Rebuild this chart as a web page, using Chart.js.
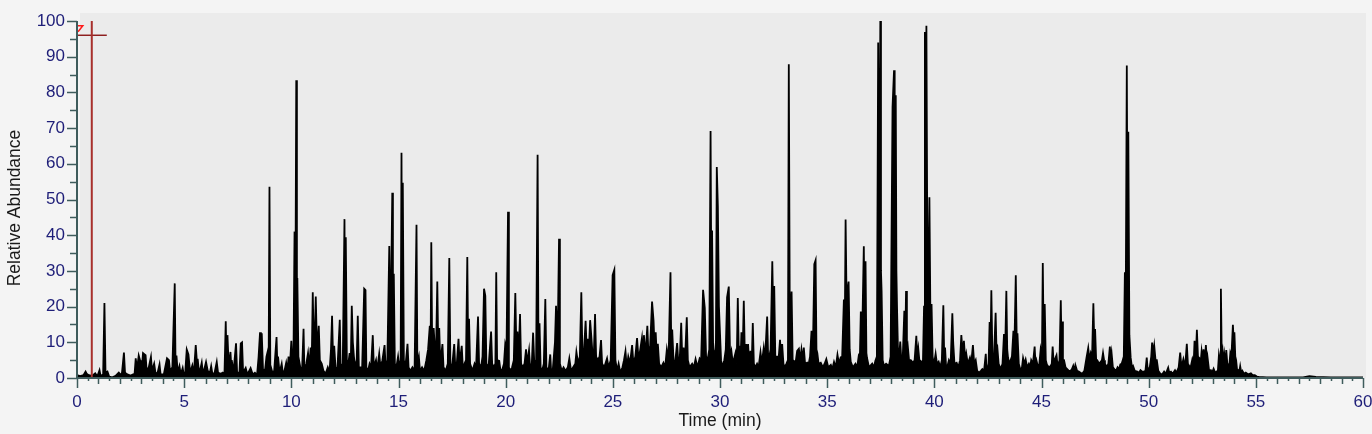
<!DOCTYPE html>
<html>
<head>
<meta charset="utf-8">
<script src="https://cdn.jsdelivr.net/npm/chart.js@4.4.1/dist/chart.umd.min.js"></script>
<style>
  html, body { margin: 0; padding: 0; background: #f4f4f4; }
  canvas { display: block; }
</style>
</head>
<body>
<canvas id="chrom" width="1372" height="434"></canvas>
<script>
// retention time (min), relative abundance (%), in pairs
var seg0to5 = [[0,0.8],[0.15,0.5],[0.3,0.8],[0.4,1.8],[0.45,1.2],[0.55,0.8],[0.7,0.6],[0.85,1.3],[0.95,0.5],[1.05,2.2],[1.1,0.6],[1.22,1],[1.28,21],[1.33,1.5],[1.42,1.8],[1.5,0.4],[1.65,0.2],[1.8,0.6],[1.95,1.5],[2.05,0.8],[2.1,1.5],[2.19,7.1],[2.24,1.5],[2.35,1],[2.5,0.7],[2.62,1],[2.68,0.6],[2.74,5.5],[2.8,2.5],[2.88,6.3],[2.94,5],[2.98,2],[3.04,4],[3.08,7],[3.14,6.7],[3.2,6.4],[3.25,2],[3.35,3],[3.45,5.9],[3.5,2],[3.6,4],[3.66,1.5],[3.75,1.2],[3.85,3.8],[3.9,1],[4.05,1],[4.2,5.5],[4.29,5],[4.34,2],[4.45,3],[4.56,26.5],[4.6,2],[4.64,6.3],[4.7,1.5],[4.78,3.3],[4.84,1],[4.93,2.8],[4.98,1]];
var seg5to10 = [[5.05,1.5],[5.12,8],[5.2,6.6],[5.28,1.5],[5.38,3.5],[5.45,1],[5.54,9.2],[5.6,4],[5.63,5.4],[5.7,1],[5.82,4.3],[5.88,1],[6.02,4.5],[6.1,2],[6.2,1.5],[6.26,3.3],[6.32,1],[6.42,1.5],[6.52,4.5],[6.58,1.5],[6.7,1.2],[6.8,1.5],[6.88,1],[6.94,15.9],[6.98,3],[7.02,12],[7.08,3],[7.16,7.3],[7.2,3],[7.22,5],[7.3,1.5],[7.42,9.7],[7.47,1.5],[7.58,1.5],[7.64,9.7],[7.7,10],[7.75,1.5],[7.87,2.8],[7.95,1],[8.1,2.8],[8.2,1],[8.3,1.5],[8.4,0.8],[8.47,5.7],[8.54,12.8],[8.58,3],[8.62,12.5],[8.68,2],[8.78,2.5],[8.84,6],[8.9,7.5],[8.94,2],[8.98,53.6],[9.02,2],[9.05,3],[9.12,1.5],[9.2,2],[9.31,11.5],[9.35,3],[9.38,6],[9.45,1.5],[9.55,4],[9.6,1.5],[9.68,2],[9.76,4.3],[9.82,2],[9.87,6],[9.93,3],[10.0,10.4],[10.05,4]];
var seg10to15 = [[10.1,6],[10.15,41],[10.18,6],[10.23,83.4],[10.26,12],[10.28,28],[10.33,6],[10.42,3],[10.5,2],[10.57,13.8],[10.61,2],[10.7,4],[10.78,7],[10.84,3],[10.9,8.5],[10.95,4],[11.0,24],[11.06,4],[11.14,22.8],[11.2,7],[11.28,14.6],[11.33,5],[11.42,4],[11.5,2],[11.6,1.2],[11.7,3],[11.78,1.5],[11.85,8],[11.9,17.4],[11.95,5],[12.0,9],[12.06,3],[12.15,2.5],[12.26,16.3],[12.3,3],[12.4,4],[12.48,44.5],[12.51,5],[12.54,39.4],[12.59,5],[12.66,4],[12.72,7],[12.77,3],[12.82,20.2],[12.87,10],[12.92,6],[12.98,3],[13.05,5],[13.1,17.4],[13.15,3],[13.25,3],[13.3,2],[13.4,25],[13.46,24.6],[13.5,3],[13.58,2],[13.65,4],[13.72,3],[13.8,12],[13.85,3],[13.95,5],[14.0,2],[14.1,6.8],[14.16,3],[14.25,5],[14.35,9.2],[14.4,3],[14.48,5],[14.57,37],[14.62,8],[14.71,51.9],[14.74,8],[14.78,29.2],[14.83,4],[14.9,3],[14.98,6],[15.04,3]];
var seg15to20 = [[15.1,5],[15.14,63.1],[15.17,8],[15.2,54.7],[15.25,5],[15.32,3],[15.42,9.6],[15.47,3],[15.55,2],[15.65,3],[15.75,2],[15.84,42.9],[15.88,4],[15.95,6],[16.0,2],[16.1,3],[16.2,2],[16.3,5],[16.38,8],[16.46,14.6],[16.5,10],[16.53,38],[16.57,10],[16.64,14],[16.7,8],[16.76,10],[16.81,27],[16.86,6],[16.9,14],[16.95,4],[17.05,9.5],[17.1,3],[17.2,2],[17.3,4],[17.37,33.6],[17.42,4],[17.5,3],[17.6,9.5],[17.65,3],[17.72,4],[17.8,11],[17.85,4],[17.95,9],[18.0,3],[18.08,4],[18.15,5],[18.21,33.9],[18.25,8],[18.29,16.6],[18.34,4],[18.45,2],[18.55,4],[18.62,3],[18.71,17.2],[18.76,4],[18.85,3],[18.92,6],[18.99,25],[19.05,23],[19.1,4],[19.2,3],[19.32,13],[19.37,4],[19.45,3],[19.52,4],[19.56,29.6],[19.6,5],[19.7,4.8],[19.76,2],[19.85,2.5],[19.92,4],[19.98,9.5]];
var seg20to25 = [[20.04,8],[20.11,46.6],[20.15,3],[20.22,2],[20.3,3],[20.38,5],[20.45,23.8],[20.5,8],[20.55,13],[20.6,5],[20.67,17.9],[20.72,4],[20.8,3],[20.88,4],[20.95,8],[21.0,4],[21.09,7.8],[21.14,3],[21.22,4],[21.28,12.7],[21.33,5],[21.42,4],[21.49,62.5],[21.53,8],[21.58,15.3],[21.63,3],[21.7,2],[21.78,4],[21.85,22.1],[21.9,3],[22.0,2],[22.08,6.6],[22.12,2],[22.2,2.5],[22.3,10],[22.35,20.2],[22.42,8],[22.49,39],[22.53,4],[22.62,2],[22.7,3],[22.8,2],[22.9,3],[22.97,5.5],[23.05,2],[23.15,3],[23.25,4],[23.3,7.3],[23.38,4],[23.46,6],[23.53,24],[23.58,7],[23.64,6],[23.73,16],[23.78,8],[23.82,11],[23.88,7],[23.94,16.2],[24.0,11.3],[24.06,6],[24.12,8],[24.17,17.9],[24.22,6],[24.3,5],[24.38,6],[24.45,10.6],[24.5,4],[24.6,3],[24.73,5.5],[24.8,3],[24.9,5],[24.99,28.8],[25.07,30.3],[25.12,5]];
var seg25to30 = [[25.2,2],[25.27,4],[25.35,1.5],[25.45,3],[25.52,5],[25.59,7.5],[25.65,3],[25.72,6],[25.8,4],[25.9,9.2],[25.96,4],[26.05,6],[26.13,11.2],[26.2,5],[26.28,8],[26.36,11.3],[26.41,7],[26.45,12],[26.52,6],[26.61,14.6],[26.66,7],[26.74,9],[26.83,21.4],[26.9,16],[26.95,8],[27.0,12.8],[27.05,6],[27.1,9.6],[27.16,4],[27.25,3],[27.36,4.3],[27.44,3],[27.52,8],[27.6,5],[27.69,29.6],[27.73,6],[27.77,13.6],[27.83,5],[27.9,4],[28.0,9.8],[28.06,4],[28.12,5],[28.19,15.5],[28.24,5],[28.3,8.5],[28.36,4],[28.45,17],[28.5,5],[28.58,3],[28.7,4],[28.78,3],[28.86,5.3],[28.95,3],[29.05,5.5],[29.12,5],[29.21,24.7],[29.29,19.6],[29.35,6],[29.42,5],[29.5,8],[29.56,69.2],[29.6,20],[29.63,41.3],[29.68,8],[29.75,6],[29.81,10],[29.85,59.1],[29.9,48.1],[29.95,20],[29.99,14],[30.05,5]];
var seg30to35 = [[30.1,3],[30.2,5],[30.27,8],[30.33,22.6],[30.41,25.6],[30.47,6],[30.53,7.6],[30.6,4],[30.72,7],[30.78,4],[30.83,22.4],[30.88,6],[30.92,9],[30.96,5],[31.0,12.8],[31.05,5],[31.11,21.6],[31.16,6],[31.22,9.5],[31.27,5],[31.31,9.5],[31.36,4],[31.42,7.6],[31.48,4],[31.53,15.4],[31.58,4],[31.65,3],[31.73,4],[31.8,3],[31.89,7.2],[31.95,4],[32.04,8.4],[32.1,5],[32.2,17.2],[32.25,5],[32.3,6],[32.36,8],[32.44,32.7],[32.5,12],[32.53,25.8],[32.58,6],[32.67,6],[32.73,5],[32.8,10.7],[32.85,6],[32.9,9.5],[32.96,4],[33.02,3],[33.1,4],[33.17,5],[33.21,87.9],[33.26,10],[33.34,24.2],[33.39,5],[33.45,4.8],[33.52,4],[33.6,7.6],[33.68,8.2],[33.74,5],[33.8,8],[33.86,5],[33.91,8.5],[33.97,4],[34.07,4.3],[34.14,4],[34.2,6],[34.27,13.2],[34.33,6],[34.4,31.9],[34.46,33],[34.5,8],[34.54,7],[34.6,4],[34.7,4.3],[34.8,3],[34.88,4],[34.96,5.3],[35.05,3]];
var seg35to40 = [[35.17,3.7],[35.24,2.5],[35.32,4.5],[35.4,3],[35.48,6.5],[35.55,4],[35.63,5.8],[35.7,6],[35.78,22],[35.83,20],[35.86,44.4],[35.9,24],[35.93,23.6],[36.0,27],[36.05,8],[36.1,4.5],[36.2,3],[36.32,4],[36.4,3],[36.48,6.5],[36.53,7],[36.57,18.6],[36.62,7],[36.71,36.9],[36.75,12],[36.79,32.7],[36.83,7],[36.86,5.6],[36.95,3],[37.1,4],[37.18,3],[37.25,4.8],[37.32,6],[37.38,94],[37.43,30],[37.48,100],[37.51,30],[37.54,24.2],[37.59,5],[37.65,3.4],[37.75,4],[37.88,3.4],[37.96,6],[38.05,76],[38.12,86.2],[38.15,75],[38.2,79.2],[38.23,30],[38.26,19.5],[38.31,6],[38.37,7],[38.41,10.2],[38.46,5],[38.52,4.6],[38.6,18.8],[38.64,8],[38.68,24.4],[38.72,8],[38.76,9],[38.82,5],[38.9,5],[39.0,4.3],[39.08,5],[39.16,11.8],[39.2,6],[39.25,8.3],[39.3,5],[39.36,4.8],[39.42,4],[39.47,5],[39.52,20],[39.56,96.9],[39.59,60],[39.63,98.7],[39.67,40],[39.72,25],[39.77,50.6],[39.82,15],[39.87,20.7],[39.92,6],[39.98,3.6]];
var seg40to45 = [[40.06,6.8],[40.12,4],[40.2,4.6],[40.28,3],[40.35,5],[40.42,20.4],[40.46,6],[40.5,8.5],[40.55,3],[40.6,3],[40.68,5],[40.76,4],[40.84,18.1],[40.88,9.9],[40.94,4],[41.04,4.3],[41.12,3],[41.2,5],[41.26,12],[41.32,7],[41.38,10.4],[41.44,5],[41.49,6.8],[41.56,4],[41.66,5.7],[41.72,4],[41.8,9.2],[41.86,4],[41.93,5],[42.0,2],[42.09,1.5],[42.17,2],[42.24,2.5],[42.32,2],[42.4,6.8],[42.44,2],[42.47,2],[42.53,4],[42.58,15.7],[42.62,8],[42.66,24.6],[42.71,6],[42.78,5],[42.86,18.3],[42.9,8],[42.94,8.6],[43.0,4],[43.1,2.5],[43.18,4],[43.25,12.3],[43.3,6],[43.36,24.4],[43.4,8],[43.44,5.6],[43.5,4],[43.56,5],[43.62,6],[43.69,13.2],[43.74,10],[43.8,28.8],[43.84,12.3],[43.88,12.3],[43.94,4],[44.03,2],[44.09,3],[44.14,5.6],[44.2,4],[44.26,5.2],[44.33,3],[44.41,4],[44.47,3],[44.52,5],[44.6,4],[44.68,8.8],[44.72,4],[44.76,5],[44.84,3],[44.9,4],[44.96,8],[45.02,6]];
var seg45to50 = [[45.06,32.2],[45.1,10],[45.15,20.7],[45.2,5],[45.25,3.8],[45.34,3],[45.43,3.4],[45.48,4],[45.52,8.8],[45.57,4],[45.62,5.2],[45.7,6.4],[45.74,4],[45.78,3.8],[45.84,5],[45.9,21.8],[45.93,10],[45.96,15.8],[46.0,5],[46.05,5],[46.12,3],[46.2,2.5],[46.28,2],[46.36,2],[46.42,2.5],[46.48,3.4],[46.53,2],[46.58,3.6],[46.66,2],[46.74,1.8],[46.82,1.5],[46.9,1.2],[47.0,2],[47.1,5.7],[47.18,8.4],[47.24,5],[47.3,7],[47.36,6],[47.42,20.9],[47.46,10],[47.5,13.7],[47.55,5],[47.6,5],[47.68,4],[47.76,4.5],[47.82,5],[47.87,7],[47.92,5],[47.96,4],[48.05,3],[48.12,4],[48.19,8.8],[48.23,5],[48.27,7],[48.33,3],[48.4,2.5],[48.48,2],[48.55,3],[48.62,2.5],[48.68,3.8],[48.74,4],[48.79,5],[48.84,6],[48.89,29.6],[48.93,20],[48.98,87.5],[49.01,40],[49.05,69],[49.1,12],[49.16,5.7],[49.22,3],[49.27,3.4],[49.35,2],[49.47,1.8],[49.55,1.5],[49.62,2.2],[49.7,1.8],[49.78,1.8],[49.85,2],[49.91,5.7],[49.96,2]];
var seg50to60 = [[50.05,3],[50.12,6],[50.16,9.9],[50.22,7],[50.26,9],[50.32,5],[50.38,5],[50.45,2],[50.57,1],[50.65,1.2],[50.72,1.8],[50.8,1.2],[50.91,2.9],[50.96,1.5],[51.04,1.8],[51.12,1.2],[51.23,2.2],[51.3,1.5],[51.4,3],[51.47,7.1],[51.53,3],[51.62,5.3],[51.7,3],[51.78,9.6],[51.83,4],[51.89,3.4],[51.96,3],[52.04,5.3],[52.1,4],[52.14,10.4],[52.2,6],[52.25,13.5],[52.3,6],[52.36,5.6],[52.42,4],[52.47,7.5],[52.52,5],[52.56,8],[52.62,5],[52.67,9.2],[52.72,4],[52.75,5.6],[52.82,2],[52.9,2.2],[52.96,1.5],[53.03,2.6],[53.1,1.5],[53.17,1.8],[53.23,2],[53.28,6.6],[53.33,5],[53.37,25],[53.41,6],[53.45,7.5],[53.49,4],[53.53,6.6],[53.58,4],[53.62,7.8],[53.67,4],[53.72,3.7],[53.77,4],[53.81,7],[53.86,6],[53.93,14.9],[53.97,10],[54.0,12.8],[54.04,6],[54.08,5],[54.13,2],[54.17,2.2],[54.22,1.5],[54.27,3.3],[54.32,1.5],[54.37,2],[54.45,1.2],[54.53,1.5],[54.65,1],[54.77,1.3],[54.85,0.8],[54.95,0.8],[55.05,0.4],[55.15,0.3],[55.5,0.2],[56,0.2],[56.5,0.2],[57.2,0.2],[57.5,0.5],[57.8,0.3],[58.5,0.2],[59.2,0.2],[60,0.2]];

// cursor drawn by the acquisition software
var cursorV = [[0.69,0],[0.69,100]];
var cursorH = [[0,96],[1.39,96]];
var cursorTag = [[0.02,98.7],[0.27,98.7],[0.05,97.0]];

var xTickLabels = [0, 5, 10, 15, 20, 25, 30, 35, 40, 45, 50, 55, 60];
var yTickLabels = [0, 10, 20, 30, 40, 50, 60, 70, 80, 90, 100];

var NAVY = '#1e1e78';
var AXIS = '#3f5c5c';
var FONT = "'Liberation Sans', Arial, sans-serif";

function toXY(pairs) {
    return pairs.map(function(p) { return {x: p[0], y: p[1]}; });
}

var trace = [].concat(seg0to5, seg5to10, seg10to15, seg15to20, seg20to25,
    seg25to30, seg30to35, seg35to40, seg40to45, seg45to50, seg50to60);

var frame = {
    id: 'frame',
    beforeDraw: function(chart) {
        var c = chart.ctx, a = chart.chartArea;
        c.save();
        c.fillStyle = '#f4f4f4';
        c.fillRect(0, 0, chart.width, chart.height);
        c.fillStyle = '#ebebeb';
        c.fillRect(a.left + 3, a.top - 8, a.right - a.left, a.bottom - a.top + 8);
        c.restore();
    },
    afterDraw: function(chart) {
        var c = chart.ctx, a = chart.chartArea;
        var xs = chart.scales.x, ys = chart.scales.y;
        c.save();
        c.strokeStyle = AXIS;
        c.lineWidth = 2;
        c.beginPath();
        c.moveTo(a.left, a.top);
        c.lineTo(a.left, a.bottom);
        c.lineTo(a.right, a.bottom);
        c.stroke();

        c.lineWidth = 1.5;
        c.beginPath();
        for (var v = 0; v <= 100; v += 5) {
            var py = Math.round(ys.getPixelForValue(v)) + 0.5;
            c.moveTo(a.left, py);
            c.lineTo(a.left - (v % 10 === 0 ? 10 : 7), py);
        }
        for (var i = 0; i <= 120; i++) {
            var t = i / 2;
            var px = Math.round(xs.getPixelForValue(t)) + 0.5;
            var len = (i % 10 === 0) ? 10 : (i % 2 === 0 ? 6 : 3);
            c.moveTo(px, a.bottom);
            c.lineTo(px, a.bottom + len);
        }
        c.stroke();

        c.fillStyle = '#1a1a1a';
        c.font = '17.5px ' + FONT;
        c.textAlign = 'center';
        c.textBaseline = 'middle';
        c.fillText('Time (min)', (a.left + a.right) / 2, 421);
        c.translate(15, 208);
        c.rotate(-Math.PI / 2);
        c.fillText('Relative Abundance', 0, 0);
        c.restore();
    }
};

new Chart(document.getElementById('chrom'), {
    type: 'line',
    data: {
        datasets: [{
            data: toXY(cursorV),
            borderColor: '#a8302c',
            borderWidth: 2,
            pointRadius: 0,
            order: 1
        }, {
            data: toXY(cursorH),
            borderColor: '#8e1f1f',
            borderWidth: 1.5,
            pointRadius: 0,
            order: 1
        }, {
            data: toXY(cursorTag),
            borderColor: '#ff1a1a',
            borderWidth: 1.5,
            pointRadius: 0,
            order: 1
        }, {
            data: toXY(trace),
            borderColor: '#000000',
            backgroundColor: '#000000',
            borderWidth: 1.8,
            borderJoinStyle: 'miter',
            fill: 'origin',
            pointRadius: 0,
            tension: 0,
            order: 2
        }]
    },
    options: {
        responsive: false,
        animation: false,
        events: [],
        layout: { padding: { top: 21, right: 9, left: 0, bottom: 0 } },
        plugins: { legend: { display: false }, tooltip: { enabled: false } },
        scales: {
            x: {
                type: 'linear',
                min: 0,
                max: 60,
                grid: { display: false, drawTicks: false },
                border: { display: false },
                afterBuildTicks: function(s) {
                    s.ticks = xTickLabels.map(function(v) { return {value: v}; });
                },
                ticks: { color: NAVY, font: { size: 17, family: FONT }, padding: 14, maxRotation: 0, autoSkip: false },
                afterFit: function(s) { s.height = 56; s.paddingLeft = 0; s.paddingRight = 0; }
            },
            y: {
                min: 0,
                max: 100,
                grid: { display: false, drawTicks: false },
                border: { display: false },
                afterBuildTicks: function(s) {
                    s.ticks = yTickLabels.map(function(v) { return {value: v}; });
                },
                ticks: { color: NAVY, font: { size: 17, family: FONT }, padding: 12 },
                afterFit: function(s) { s.width = 77; s.paddingTop = 0; s.paddingBottom = 0; }
            }
        }
    },
    plugins: [frame]
});
</script>
</body>
</html>
